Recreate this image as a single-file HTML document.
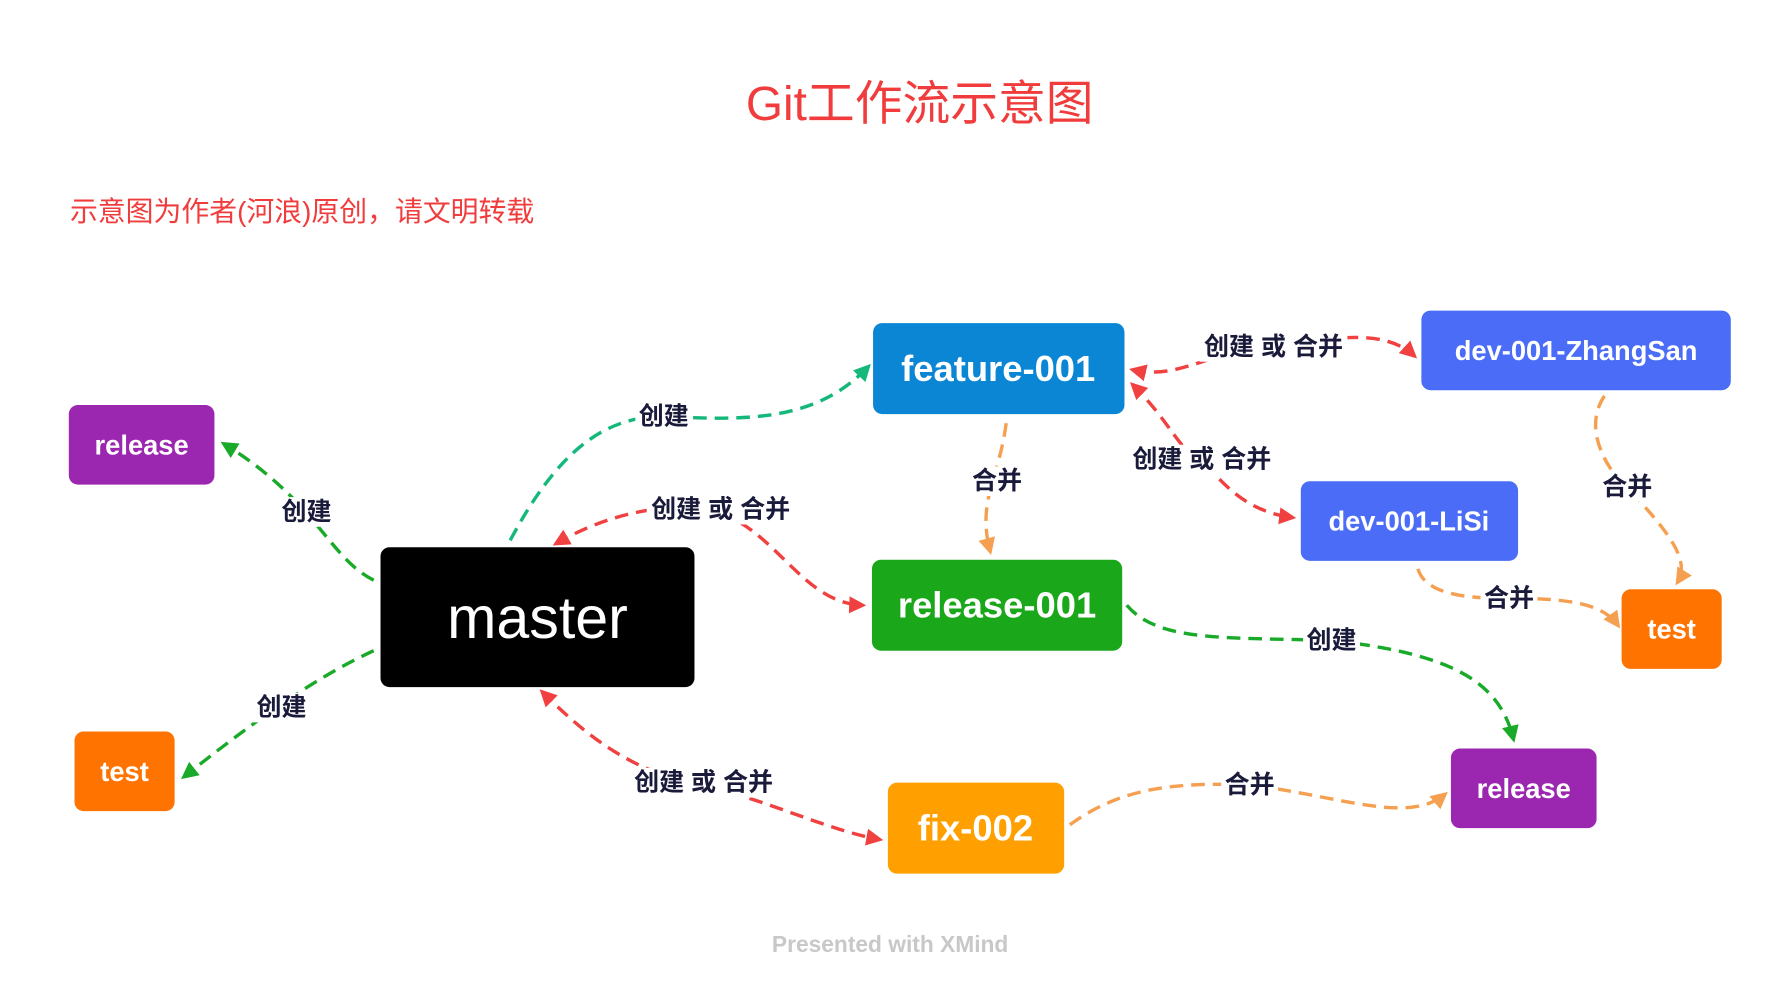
<!DOCTYPE html>
<html><head><meta charset="utf-8"><style>
html,body{margin:0;padding:0;background:#fff;}
svg{display:block;}
text{font-family:"Liberation Sans","Noto Sans CJK SC",sans-serif;}
.n{fill:#fff;font-weight:bold;text-anchor:middle;dominant-baseline:central;}
.l{fill:#1a1a3a;font-weight:bold;font-size:22px;text-anchor:middle;dominant-baseline:central;}
.c{fill:none;stroke-width:3;stroke-dasharray:12 7;}
</style></head><body>
<svg width="1778" height="992" viewBox="1.5 0 1563 872" xmlns="http://www.w3.org/2000/svg">
<defs>
<marker id="ag" viewBox="0 0 10 10" refX="8" refY="5" markerWidth="5" markerHeight="5" orient="auto-start-reverse"><path d="M0,0L10,5L0,10z" fill="#1aaa2a"/></marker>
<marker id="at" viewBox="0 0 10 10" refX="8" refY="5" markerWidth="5" markerHeight="5" orient="auto-start-reverse"><path d="M0,0L10,5L0,10z" fill="#14b87a"/></marker>
<marker id="ar" viewBox="0 0 10 10" refX="8" refY="5" markerWidth="5" markerHeight="5" orient="auto-start-reverse"><path d="M0,0L10,5L0,10z" fill="#f04040"/></marker>
<marker id="ao" viewBox="0 0 10 10" refX="8" refY="5" markerWidth="5" markerHeight="5" orient="auto-start-reverse"><path d="M0,0L10,5L0,10z" fill="#f5a050"/></marker>
</defs>
<text x="810" y="92" font-size="42" fill="#f03c3c" text-anchor="middle" dominant-baseline="central">Git工作流示意图</text>
<text x="63" y="186" font-size="24.5" fill="#f03c3c" dominant-baseline="central">示意图为作者(河浪)原创，请文明转载</text>

<path class="c" stroke="#14b87a" marker-end="url(#at)" d="M450,475 C490,400 530,366 585,366 C660,370 720,370 765,322"/>
<path class="c" stroke="#1aaa2a" marker-end="url(#ag)" d="M330,510 C290,490 280,440 198,390"/>
<path class="c" stroke="#1aaa2a" marker-end="url(#ag)" d="M330,572 C280,595 230,630 163,683"/>
<path class="c" stroke="#f04040" marker-start="url(#ar)" marker-end="url(#ar)" d="M490,478 C530,455 570,445 610,446 C680,450 700,530 760,532"/>
<path class="c" stroke="#f04040" marker-start="url(#ar)" marker-end="url(#ar)" d="M478,608 C520,650 560,680 620,690 C680,705 730,730 775,738"/>
<path class="c" stroke="#f5a050" marker-end="url(#ao)" d="M886,372 C880,420 860,440 872,485"/>
<path class="c" stroke="#f04040" marker-start="url(#ar)" marker-end="url(#ar)" d="M997,325 C1040,335 1070,305 1120,305 C1180,295 1220,290 1245,313"/>
<path class="c" stroke="#f04040" marker-start="url(#ar)" marker-end="url(#ar)" d="M997,338 C1030,370 1040,400 1058,404 C1080,430 1100,450 1138,455"/>
<path class="c" stroke="#f5a050" marker-end="url(#ao)" d="M1412,348 C1390,380 1420,420 1432,428 C1460,460 1490,490 1476,512"/>
<path class="c" stroke="#f5a050" marker-end="url(#ao)" d="M1248,500 C1255,525 1300,526 1328,526 C1380,526 1410,530 1424,550"/>
<path class="c" stroke="#1aaa2a" marker-end="url(#ag)" d="M992,532 C1020,565 1080,560 1172,563 C1280,575 1320,600 1332,650"/>
<path class="c" stroke="#f5a050" marker-end="url(#ao)" d="M942,725 C990,690 1040,688 1100,690 C1180,700 1240,725 1272,698"/>

<g>
<rect x="560" y="353" width="50" height="26" fill="#fff"/><text class="l" x="585" y="366">创建</text>
<rect x="246" y="437" width="50" height="26" fill="#fff"/><text class="l" x="271" y="450">创建</text>
<rect x="224" y="609" width="50" height="26" fill="#fff"/><text class="l" x="249" y="622">创建</text>
<rect x="570" y="435" width="130" height="26" fill="#fff"/><text class="l" x="635" y="448">创建 或 合并</text>
<rect x="555" y="675" width="130" height="26" fill="#fff"/><text class="l" x="620" y="688">创建 或 合并</text>
<rect x="853" y="410" width="50" height="26" fill="#fff"/><text class="l" x="878" y="423">合并</text>
<rect x="1056" y="292" width="130" height="26" fill="#fff"/><text class="l" x="1121" y="305">创建 或 合并</text>
<rect x="993" y="391" width="130" height="26" fill="#fff"/><text class="l" x="1058" y="404">创建 或 合并</text>
<rect x="1407" y="415" width="50" height="26" fill="#fff"/><text class="l" x="1432" y="428">合并</text>
<rect x="1303" y="513" width="50" height="26" fill="#fff"/><text class="l" x="1328" y="526">合并</text>
<rect x="1147" y="550" width="50" height="26" fill="#fff"/><text class="l" x="1172" y="563">创建</text>
<rect x="1075" y="677" width="50" height="26" fill="#fff"/><text class="l" x="1100" y="690">合并</text>
</g>

<rect x="769" y="284" width="221" height="80" rx="8" fill="#0a86d4"/><text class="n" x="879" y="324" font-size="32">feature-001</text>
<rect x="1251" y="273" width="272" height="70" rx="8" fill="#4a6cf7"/><text class="n" x="1387" y="308" font-size="24">dev-001-ZhangSan</text>
<rect x="62" y="356" width="128" height="70" rx="8" fill="#9b27b0"/><text class="n" x="126" y="391" font-size="24">release</text>
<rect x="1145" y="423" width="191" height="70" rx="8" fill="#4a6cf7"/><text class="n" x="1240" y="458" font-size="24">dev-001-LiSi</text>
<rect x="336" y="481" width="276" height="123" rx="8" fill="#000"/><text class="n" x="474" y="543" font-size="52" style="font-weight:normal">master</text>
<rect x="768" y="492" width="220" height="80" rx="8" fill="#1aa81a"/><text class="n" x="878" y="532" font-size="32">release-001</text>
<rect x="1427" y="518" width="88" height="70" rx="8" fill="#ff7300"/><text class="n" x="1471" y="553" font-size="24">test</text>
<rect x="67" y="643" width="88" height="70" rx="8" fill="#ff7300"/><text class="n" x="111" y="678" font-size="24">test</text>
<rect x="1277" y="658" width="128" height="70" rx="8" fill="#9b27b0"/><text class="n" x="1341" y="693" font-size="24">release</text>
<rect x="782" y="688" width="155" height="80" rx="8" fill="#ffa000"/><text class="n" x="859" y="728" font-size="32">fix-002</text>

<text x="784" y="830" font-size="20" font-weight="bold" fill="#c8c8c8" text-anchor="middle" dominant-baseline="central">Presented with XMind</text>
</svg>
</body></html>
